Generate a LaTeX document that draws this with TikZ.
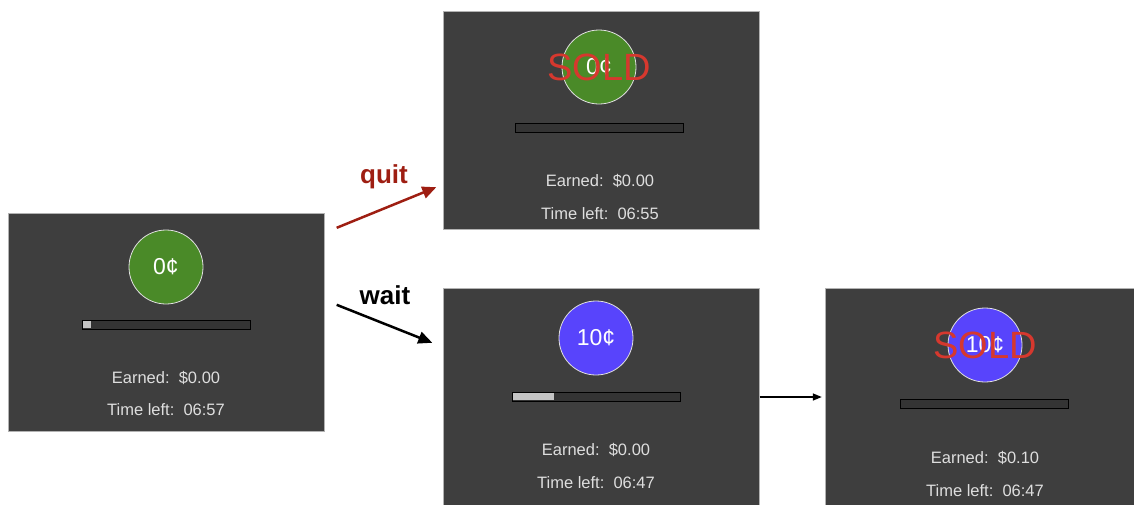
\documentclass[tikz,border=0pt]{standalone}
\usepackage{fontspec}
\setmainfont{Liberation Sans}
\usetikzlibrary{arrows.meta}

\definecolor{panelgray}{RGB}{62,62,62}
\definecolor{coingreen}{RGB}{74,138,40}
\definecolor{coinblue}{RGB}{88,68,252}
\definecolor{soldred}{RGB}{214,56,46}
\definecolor{quitred}{RGB}{158,30,18}
\definecolor{txtgray}{RGB}{222,222,222}
\definecolor{bargray}{RGB}{52,52,52}
\definecolor{barfill}{RGB}{196,196,196}

\begin{document}
\begin{tikzpicture}[x=1pt,y=1pt,yscale=-1,xscale=1,
    panel/.style={draw=black!30, fill=panelgray, minimum width=316pt, minimum height=218pt, inner sep=0pt},
    coin/.style={circle, draw=white!88!black, line width=0.8pt, minimum size=74pt, inner sep=0pt, text=white, font=\fontsize{23}{23}\selectfont},
    bar/.style={draw=black, fill=bargray, minimum width=168pt, minimum height=9pt, inner sep=0pt, line width=0.8pt},
    info/.style={text=txtgray, font=\fontsize{16.5}{16.5}\selectfont, inner sep=0pt},
    sold/.style={text=soldred, font=\fontsize{38}{38}\selectfont, inner sep=0pt},
    choice/.style={font=\bfseries\fontsize{26}{26}\selectfont, inner sep=0pt},
    move/.style={-{Triangle[length=14pt,width=12pt]}, line width=2.5pt}]
    \useasboundingbox (0,0) rectangle (1134,504);

    % start screen
    \node [panel] (pA) at (166.5,322) {};
    \node [coin, fill=coingreen] (cA) at (166,267) {0¢};
    \node [bar] (bA) at (166.5,324.5) {};
    \fill [barfill] ([shift={(1,1.5)}]bA.north west) rectangle ([shift={(9,-1.5)}]bA.south west);
    \node [info] (eA) at (166,378) {Earned:\ \ \$0.00};
    \node [info] (tA) at (166,410) {Time left:\ \ 06:57};

    % after quit
    \node [panel] (pB) at (601.5,120) {};
    \node [coin, fill=coingreen] (cB) at (599,67) {0¢};
    \node [sold] (sB) at (599,67) {SOLD};
    \node [bar] (bB) at (599.5,127.5) {};
    \node [info] (eB) at (600,181) {Earned:\ \ \$0.00};
    \node [info] (tB) at (600,214) {Time left:\ \ 06:55};

    % after wait
    \node [panel] (pC) at (601.5,397) {};
    \node [coin, fill=coinblue] (cC) at (596,338) {10¢};
    \node [bar] (bC) at (596.5,396.5) {};
    \fill [barfill] ([shift={(1,1.5)}]bC.north west) rectangle ([shift={(42,-1.5)}]bC.south west);
    \node [info] (eC) at (596,450) {Earned:\ \ \$0.00};
    \node [info] (tC) at (596,483) {Time left:\ \ 06:47};

    % sold after waiting
    \node [panel] (pD) at (983,397) {};
    \node [coin, fill=coinblue] (cD) at (985,345) {10¢};
    \node [sold] (sD) at (985,345) {SOLD};
    \node [bar] (bD) at (984.5,403.5) {};
    \node [info] (eD) at (985,458) {Earned:\ \ \$0.10};
    \node [info] (tD) at (985,491) {Time left:\ \ 06:47};

    % choices
    \draw [move, draw=quitred, fill=quitred] ([shift={(12,15)}]pA.north east) -- ([shift={(-7,-42)}]pB.south west);
    \node [choice, text=quitred] (quit) at (384,177) {quit};
    \draw [move] ([shift={(12,92)}]pA.north east) -- ([shift={(-11,55)}]pC.north west);
    \node [choice] (wait) at (385,295) {wait};
    \draw [-{Triangle[length=9pt,width=7pt]}, line width=1.4pt, shorten >=3pt] (pC.east) -- (pD.west);

\end{tikzpicture}
\end{document}
